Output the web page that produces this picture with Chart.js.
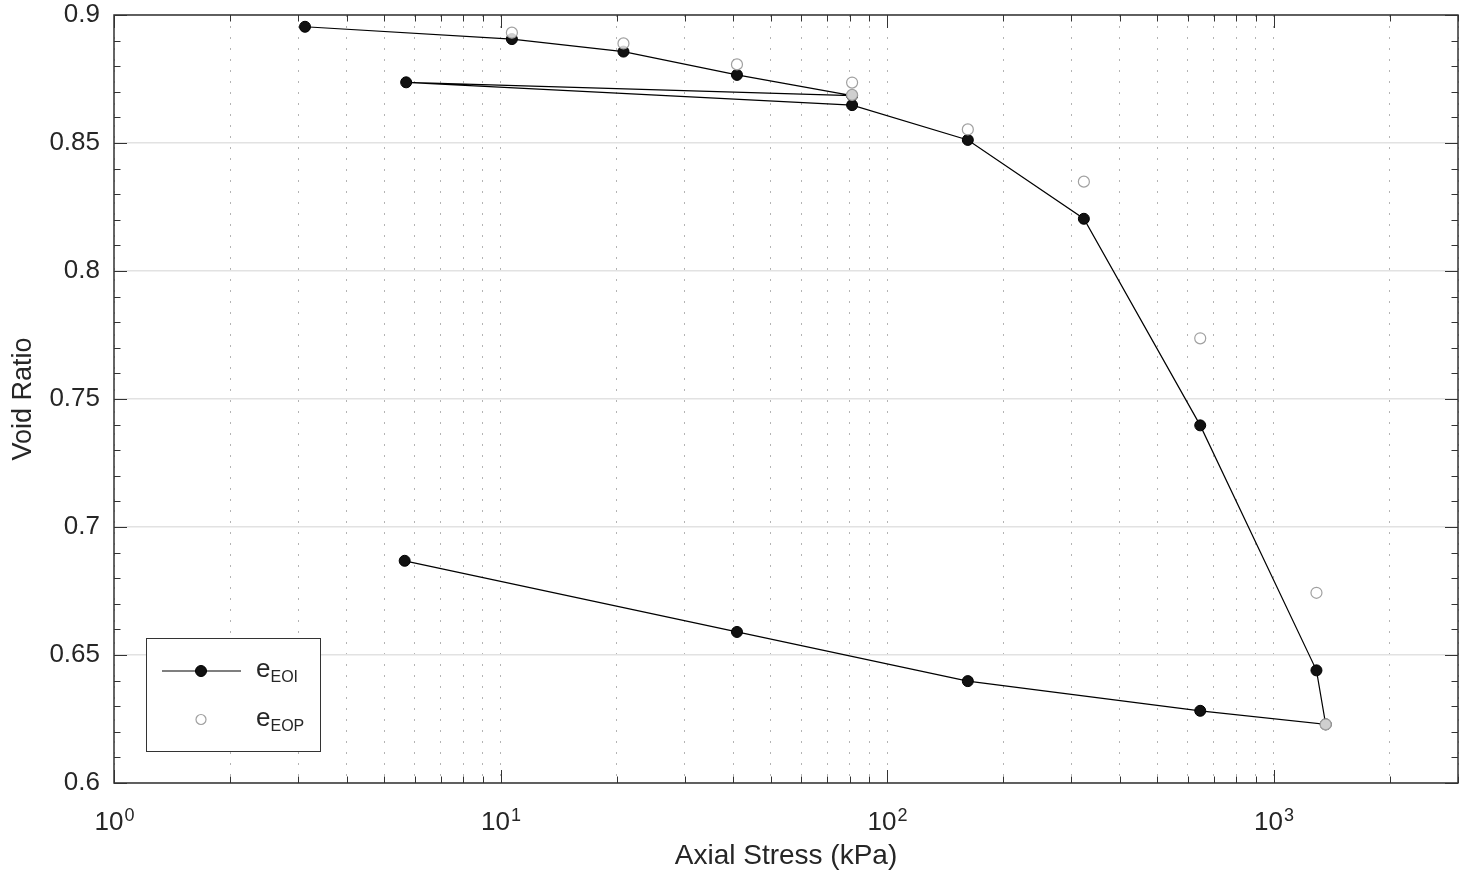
<!DOCTYPE html>
<html>
<head>
<meta charset="utf-8">
<title>Void Ratio vs Axial Stress</title>
<script src="https://cdn.jsdelivr.net/npm/chart.js@4.4.1/dist/chart.umd.min.js"></script>
<style>
  html, body { margin: 0; padding: 0; background: #ffffff; }
  #wrap { width: 1465px; height: 874px; position: relative; }
</style>
</head>
<body>
<div id="wrap"><canvas id="c"></canvas></div>
<script>
// Consolidation test: axial stress (kPa) and void ratio per load increment
const stressEOI = [3.12, 10.7, 20.8, 40.9, 81.2, 5.70, 81.2, 161.8, 323, 646, 1291, 1364, 646, 161.8, 40.9, 5.65];
const voidEOI   = [0.8954, 0.8906, 0.8857, 0.8766, 0.8685, 0.8737, 0.8648, 0.8512, 0.8204, 0.7397, 0.6440, 0.6229, 0.6282, 0.6398, 0.6590, 0.6868];

const stressEOP = [10.7, 20.8, 40.9, 81.2, 81.2, 161.8, 323, 646, 1291, 1364];
const voidEOP   = [0.8931, 0.8889, 0.8807, 0.8736, 0.8688, 0.8553, 0.8349, 0.7737, 0.6743, 0.6229];

const yTicks      = [0.6, 0.65, 0.7, 0.75, 0.8, 0.85, 0.9];
const yTickLabels = ['0.6', '0.65', '0.7', '0.75', '0.8', '0.85', '0.9'];
const xDecades         = [1, 10, 100, 1000];
const xDecadeBases     = ['10', '10', '10', '10'];
const xDecadeExponents = ['0', '1', '2', '3'];
const seriesSubscripts = ['EOI', 'EOP'];

const X_MIN = 1, X_MAX = 3000, Y_MIN = 0.6, Y_MAX = 0.9;
const FONT = "'Liberation Sans', Arial, Helvetica, sans-serif";
const TEXT = '#262626';
const AXIS = '#333333';

// every log step 1..9 per decade inside the axis range
const xLogSteps = [];
for (const d of xDecades) {
  for (let m = 1; m <= 9; m++) {
    const v = m * d;
    if (v >= X_MIN && v <= X_MAX) xLogSteps.push(v);
  }
}
// y minor steps at 0.01
const yMinorSteps = [];
for (let k = Math.round(Y_MIN * 100); k <= Math.round(Y_MAX * 100); k++) yMinorSteps.push(k / 100);

const toPoints = (xs, ys) => xs.map((x, i) => ({ x: x, y: ys[i] }));
const crisp = v => Math.round(v) + 0.5;

// box, inward ticks, decade labels with exponents
const axesFrame = {
  id: 'axesFrame',
  afterDraw(chart) {
    const { ctx, chartArea: a } = chart;
    const xs = chart.scales.x, ys = chart.scales.y;
    ctx.save();
    ctx.strokeStyle = AXIS;
    ctx.lineWidth = 1;
    ctx.beginPath();
    for (const v of xLogSteps) {
      const px = crisp(xs.getPixelForValue(v));
      const len = xDecades.includes(v) ? 13 : 6.5;
      ctx.moveTo(px, a.bottom); ctx.lineTo(px, a.bottom - len);
      ctx.moveTo(px, a.top); ctx.lineTo(px, a.top + len);
    }
    for (const v of yMinorSteps) {
      const py = crisp(ys.getPixelForValue(v));
      const major = yTicks.some(t => Math.abs(t - v) < 1e-9);
      const len = major ? 13 : 6.5;
      ctx.moveTo(a.left, py); ctx.lineTo(a.left + len, py);
      ctx.moveTo(a.right, py); ctx.lineTo(a.right - len, py);
    }
    ctx.stroke();
    ctx.lineWidth = 1.5;
    ctx.strokeRect(Math.round(a.left), Math.round(a.top), Math.round(a.right - a.left), Math.round(a.bottom - a.top));

    // x decade labels: 10 with superscript exponent
    ctx.fillStyle = TEXT;
    ctx.textBaseline = 'alphabetic';
    ctx.textAlign = 'left';
    xDecades.forEach((d, i) => {
      const px = xs.getPixelForValue(d);
      ctx.font = '26px ' + FONT;
      const wb = ctx.measureText(xDecadeBases[i]).width;
      ctx.font = '18px ' + FONT;
      const we = ctx.measureText(xDecadeExponents[i]).width;
      const x0 = px - (wb + we) / 2;
      ctx.font = '26px ' + FONT;
      ctx.fillText(xDecadeBases[i], x0, a.bottom + 47);
      ctx.font = '18px ' + FONT;
      ctx.fillText(xDecadeExponents[i], x0 + wb + 1, a.bottom + 38);
    });
    ctx.restore();
  }
};

// legend box in the lower-left corner of the plot
const cornerLegend = {
  id: 'cornerLegend',
  afterDraw(chart) {
    const { ctx, chartArea: a } = chart;
    const bx = a.left + 32, bw = 174, bh = 113;
    const by = a.bottom - 32 - bh;
    ctx.save();
    ctx.fillStyle = '#ffffff';
    ctx.fillRect(bx, by, bw, bh);
    ctx.strokeStyle = AXIS;
    ctx.lineWidth = 1;
    ctx.strokeRect(crisp(bx), crisp(by), bw, bh);

    const mx = bx + 55;
    const rows = [by + 33, by + 81.5];
    // filled marker with line
    ctx.strokeStyle = '#000000';
    ctx.lineWidth = 1.2;
    ctx.beginPath();
    ctx.moveTo(bx + 16, rows[0]); ctx.lineTo(bx + 95, rows[0]);
    ctx.stroke();
    ctx.beginPath();
    ctx.arc(mx, rows[0], 5.5, 0, Math.PI * 2);
    ctx.fillStyle = '#111111';
    ctx.fill();
    ctx.lineWidth = 1;
    ctx.stroke();
    // open marker
    ctx.beginPath();
    ctx.arc(mx, rows[1], 5, 0, Math.PI * 2);
    ctx.fillStyle = '#ffffff';
    ctx.fill();
    ctx.strokeStyle = '#a0a0a0';
    ctx.lineWidth = 1.2;
    ctx.stroke();

    ctx.fillStyle = TEXT;
    ctx.textAlign = 'left';
    ctx.textBaseline = 'alphabetic';
    seriesSubscripts.forEach((s, i) => {
      const tx = bx + 110;
      ctx.font = '26px ' + FONT;
      ctx.fillText('e', tx, rows[i] + 6);
      const w = ctx.measureText('e').width;
      ctx.font = '16px ' + FONT;
      ctx.fillText(s, tx + w, rows[i] + 11);
    });
    ctx.restore();
  }
};

new Chart(document.getElementById('c'), {
  type: 'scatter',
  data: {
    datasets: [
      {
        label: 'eEOP',
        data: toPoints(stressEOP, voidEOP),
        order: 0,
        showLine: false,
        pointRadius: 5.5,
        pointBackgroundColor: 'rgba(255,255,255,0.8)',
        pointBorderColor: '#a0a0a0',
        pointBorderWidth: 1.2
      },
      {
        label: 'eEOI',
        data: toPoints(stressEOI, voidEOI),
        order: 1,
        showLine: true,
        borderColor: '#000000',
        borderWidth: 1.2,
        tension: 0,
        pointRadius: 5.5,
        pointBackgroundColor: '#111111',
        pointBorderColor: '#000000',
        pointBorderWidth: 1
      }
    ]
  },
  options: {
    responsive: true,
    maintainAspectRatio: false,
    animation: false,
    events: [],
    layout: { padding: { top: 15, right: 7, left: 0, bottom: 0 } },
    plugins: { legend: { display: false }, tooltip: { enabled: false } },
    scales: {
      x: {
        type: 'logarithmic',
        min: X_MIN,
        max: X_MAX,
        afterBuildTicks(scale) { scale.ticks = xLogSteps.map(v => ({ value: v })); },
        afterFit(scale) {
          scale.height = 91;
          scale.paddingLeft = 0; scale.paddingRight = 0;
        },
        ticks: { display: false },
        grid: { color: '#b4b4b4', lineWidth: 1, drawTicks: false },
        border: { display: false, dash: [2, 9] },
        title: {
          display: true,
          text: 'Axial Stress (kPa)',
          color: TEXT,
          font: { family: FONT, size: 28, lineHeight: 1.2 },
          padding: { top: 0, bottom: 1 }
        }
      },
      y: {
        type: 'linear',
        min: Y_MIN,
        max: Y_MAX,
        afterBuildTicks(scale) { scale.ticks = yTicks.map(v => ({ value: v })); },
        afterFit(scale) {
          scale.width = 114;
          scale.paddingTop = 0; scale.paddingBottom = 0;
        },
        ticks: {
          color: TEXT,
          padding: 14,
          font: { family: FONT, size: 26 },
          callback: (v) => {
            const i = yTicks.findIndex(t => Math.abs(t - v) < 1e-9);
            return i >= 0 ? yTickLabels[i] : '';
          }
        },
        grid: { color: '#e2e2e2', lineWidth: 1.5, drawTicks: false },
        border: { display: false },
        title: {
          display: true,
          text: 'Void Ratio',
          color: TEXT,
          font: { family: FONT, size: 27, lineHeight: 1.2 },
          padding: { top: 7, bottom: 0 }
        }
      }
    }
  },
  plugins: [axesFrame, cornerLegend]
});
</script>
</body>
</html>
